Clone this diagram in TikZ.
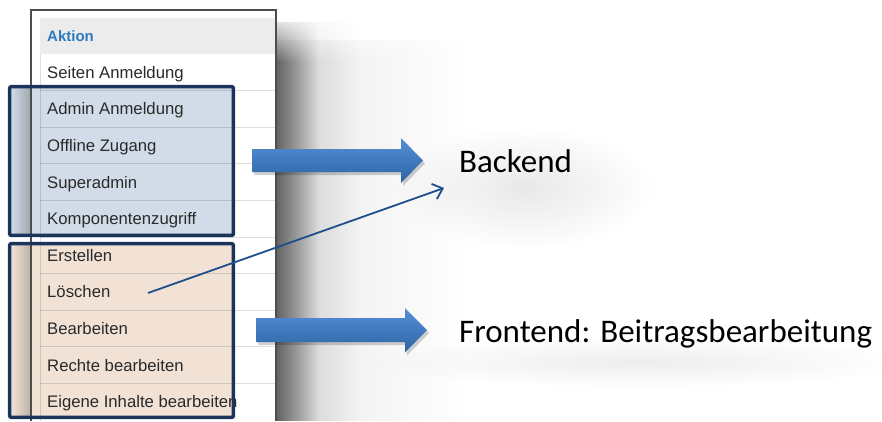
\documentclass[tikz,border=0pt]{standalone}
\usepackage{fontspec}
\setmainfont{Liberation Sans}
\newfontfamily\labelfont{Carlito}
\usetikzlibrary{arrows.meta,fadings}

\definecolor{framegray}{HTML}{4D4D4D}
\definecolor{headgray}{HTML}{ECECEC}
\definecolor{rowink}{HTML}{2A2A2A}
\definecolor{headblue}{HTML}{2D7BBF}
\definecolor{boxnavy}{HTML}{1B355A}
\definecolor{backfill}{HTML}{D2DCE8}
\definecolor{frontfill}{HTML}{F1E2D5}
\definecolor{arrowtop}{HTML}{5690D4}
\definecolor{arrowbot}{HTML}{2C63A7}
\definecolor{linkblue}{HTML}{1F4E8C}

% transparency ramps for the soft shadows
\tikzfading[name=fadeeast, left color=transparent!0, right color=transparent!100]
\tikzfading[name=fadesouth, top color=transparent!0, bottom color=transparent!100]
\tikzfading[name=fuzzyspot, inner color=transparent!0, outer color=transparent!100]

\tikzset{
  rowtext/.style={anchor=base west, inner sep=0pt, text=rowink,
    font=\fontsize{16.7}{18}\selectfont},
  headtext/.style={anchor=base west, inner sep=0pt, text=headblue,
    font=\fontsize{15}{17}\selectfont\bfseries},
  rowsep/.style={draw=black, draw opacity=0.13, line width=1pt},
  grouparea/.style={inner sep=0pt, minimum width=223.5pt},
  groupborder/.style={draw=boxnavy, line width=3.5pt, rounded corners=2pt},
  blockarrow/.style={top color=arrowtop, bottom color=arrowbot},
  arrowshadow/.style={fill=black, fill opacity=0.18},
  linkarrow/.style={draw=linkblue, line width=1.8pt,
    -{Straight Barb[length=9pt,width=16pt,line width=1.8pt]}},
  biglabel/.style={anchor=base west, inner sep=0pt,
    font=\labelfont\fontsize{33}{38}\selectfont},
  softshadow/.style={fill=black, path fading=#1}
}

\begin{document}
\begin{tikzpicture}[x=1pt,y=-1pt]
\useasboundingbox (0,0) rectangle (882,421);
\fill[white] (0,0) rectangle (882,421);

% drop shadow right of the table screenshot
\fill[softshadow=fadeeast, fill opacity=0.5] (276,22) rectangle (318,421);
\fill[softshadow=fadeeast, fill opacity=0.16] (276,22) rectangle (360,421);
\fill[softshadow=fadeeast, fill opacity=0.08] (276,40) rectangle (470,421);
% let the shadow fade in towards the top
\fill[white, path fading=fadesouth] (276.6,11) rectangle (480,62);

% soft haze behind the two labels
\fill[softshadow=fuzzyspot, fill opacity=0.09] (525,188) ellipse [x radius=130, y radius=62];
\fill[softshadow=fuzzyspot, fill opacity=0.07] (640,362) ellipse [x radius=270, y radius=26];

% table screenshot
\fill[white] (31,10) rectangle (276,421);
\fill[headgray] (40,18) rectangle (276,54);

% group areas (tinted background)
\node[grouparea, fill=backfill, minimum height=148.5pt] (backgroup) at (121.5,161) {};
\node[grouparea, fill=frontfill, minimum height=173.5pt] (frontgroup) at (121.5,330.5) {};

% shadow strip left of the screenshot inside the groups
\shade[left color=backfill, right color=backfill!75!black] (11,87) rectangle (31,235);
\shade[left color=frontfill, right color=frontfill!78!black] (11,244) rectangle (31,417);

% row grid
\draw[rowsep, line width=0.8pt] (40.5,54) -- (40.5,421);
\foreach \i in {1,...,9}
  \draw[rowsep] (40,{54+36.6*\i}) -- (276,{54+36.6*\i});

\node[headtext] (head) at (47,41) {Aktion};
\foreach \t [count=\i] in {Seiten Anmeldung, Admin Anmeldung, Offline Zugang,
    Superadmin, Komponentenzugriff, Erstellen, Löschen, Bearbeiten,
    Rechte bearbeiten, Eigene Inhalte bearbeiten}
  \node[rowtext] (row\i) at (47,{54+36.6*(\i-0.5)+6}) {\t};

% screenshot frame
\draw[framegray, line width=1.2pt] (31,421) -- (31,10) -- (276,10) -- (276,421);

% group borders
\draw[groupborder] (backgroup.north west) rectangle (backgroup.south east);
\draw[groupborder] (frontgroup.north west) rectangle (frontgroup.south east);

% block arrows
\path[arrowshadow] (254,152) -- (403,152) -- (403,141) -- (425,163.5)
  -- (403,186) -- (403,175) -- (254,175) -- cycle;
\path[blockarrow] (252,149) -- (401,149) -- (401,138) -- (423,160.5)
  -- (401,183) -- (401,172) -- (252,172) -- cycle;
\path[arrowshadow] (258,321) -- (407,321) -- (407,311) -- (429,333)
  -- (407,355.5) -- (407,345) -- (258,345) -- cycle;
\path[blockarrow] (256,318) -- (405,318) -- (405,308) -- (427,330)
  -- (405,352.5) -- (405,342) -- (256,342) -- cycle;

% labels
\node[biglabel] (backend) at (459,172) {Backend};
\node[biglabel] (frontend) at (459,342) {Frontend: Beitragsbearbeitung};

% link from the delete permission to the backend
\coordinate (linkstart) at (148,293);
\coordinate (linkend) at (444,188);
\draw[linkarrow] (linkstart) -- (linkend);
\end{tikzpicture}
\end{document}
